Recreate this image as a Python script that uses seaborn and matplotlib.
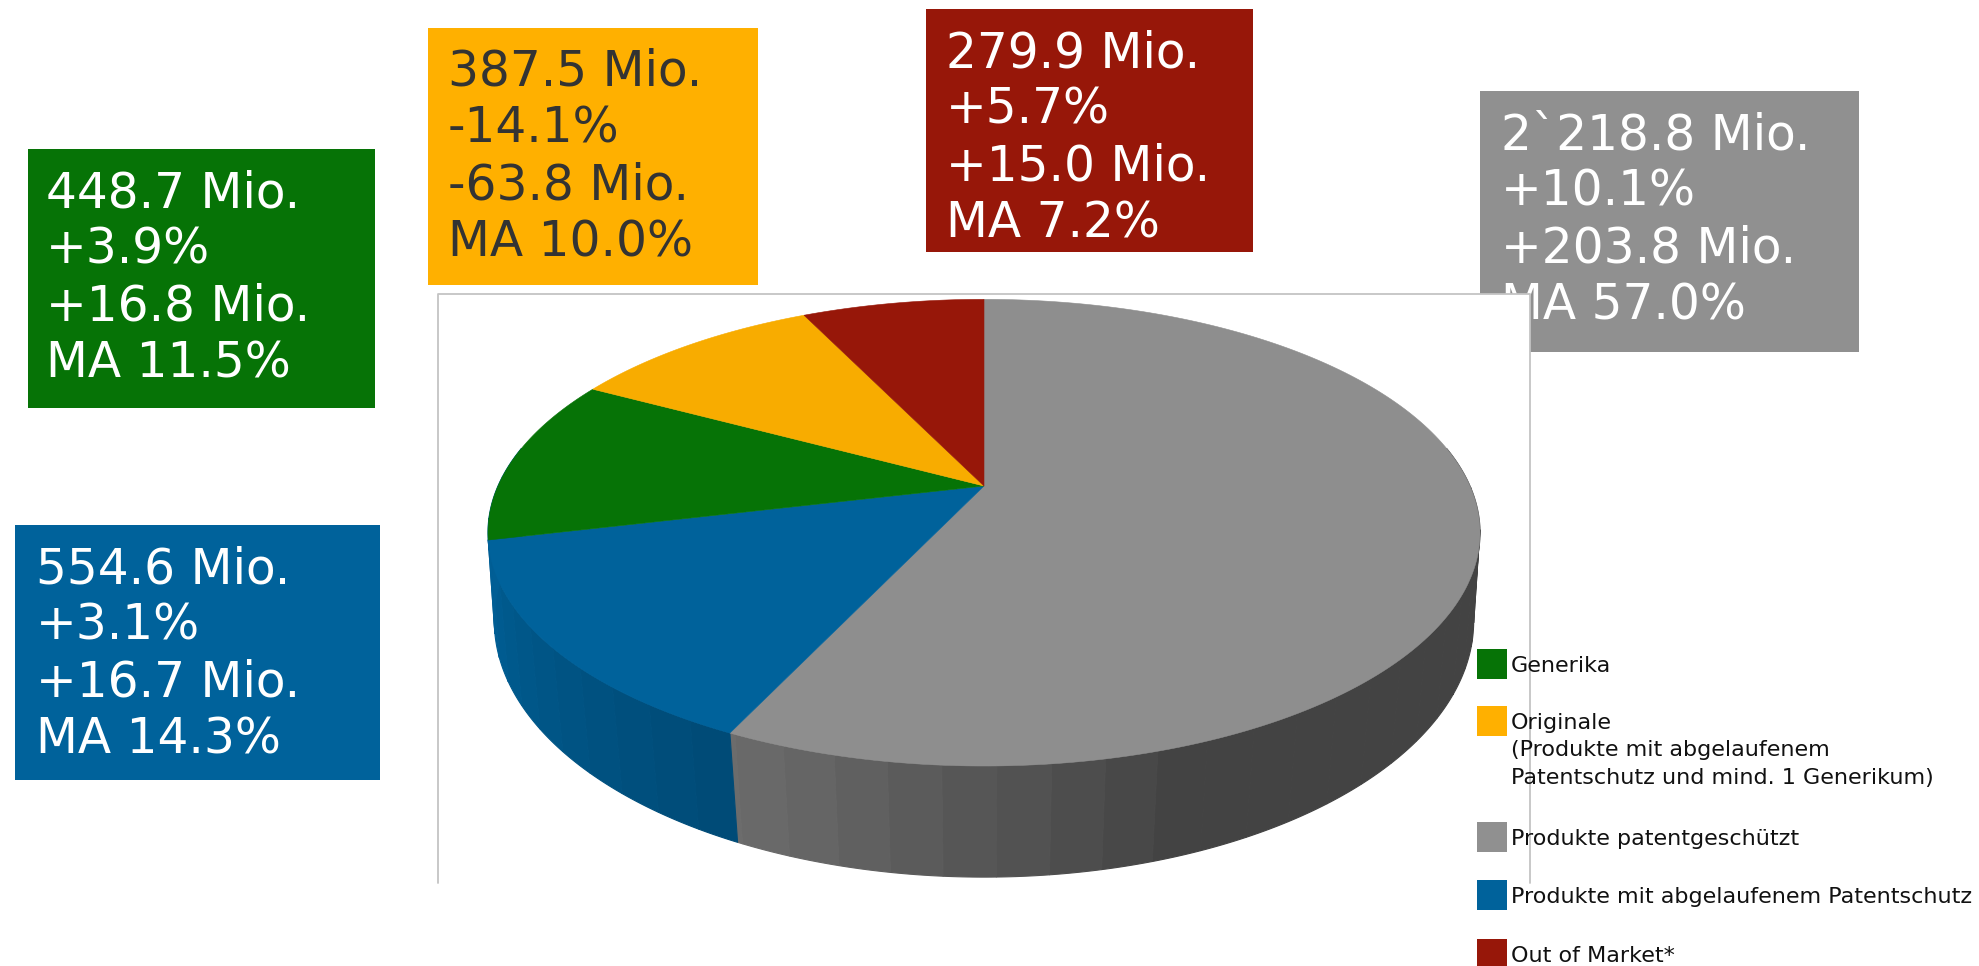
# -*- coding: utf-8 -*-
import numpy as np
from matplotlib import pyplot as plt
from matplotlib.colors import to_rgb
from matplotlib.patches import Rectangle
import seaborn as sns

# pie data, clockwise from the top
slice_names = ['Produkte patentgeschützt', 'Produkte mit abgelaufenem Patentschutz', 'Generika', 'Originale', 'Out of Market*']
slice_values = [2218.8, 554.6, 448.7, 387.5, 279.9]
slice_colors = ['#8e8e8e', '#00629b', '#067306', '#f8ac00', '#971709']

box_texts = {
    'Generika': ['448.7 Mio.', '+3.9%', '+16.8 Mio.', 'MA 11.5%'],
    'Patentschutz': ['554.6 Mio.', '+3.1%', '+16.7 Mio.', 'MA 14.3%'],
    'Originale': ['387.5 Mio.', '-14.1%', '-63.8 Mio.', 'MA 10.0%'],
    'Market': ['279.9 Mio.', '+5.7%', '+15.0 Mio.', 'MA 7.2%'],
    'Patent': ['2`218.8 Mio.', '+10.1%', '+203.8 Mio.', 'MA 57.0%'],
}
legend_texts = ['Generika', 'Originale\n(Produkte mit abgelaufenem\nPatentschutz und mind. 1 Generikum)',
                'Produkte patentgeschützt', 'Produkte mit abgelaufenem Patentschutz', 'Out of Market*']
legend_colors = ['#067306', '#ffb000', '#909090', '#00629b', '#971709']

sns.set_theme(style = "white")
plt.rcParams['font.family'] = ['DejaVu Sans']

fig = plt.figure(figsize = (19.79, 9.66), dpi = 100)
ax = fig.add_axes([0, 0, 1, 1])
ax.set_xlim(0, 1979)
ax.set_ylim(966, 0)
ax.axis('off')

def project(theta, a, b, y0, k):
    """Perspective view of the unit disc, theta in degrees clockwise from the top
    """
    X = np.sin(np.radians(theta))
    Y = -np.cos(np.radians(theta))
    w = 1 - k*Y
    return 984 + a*X/w, y0 + b*Y/w

def toprim(theta):
    return project(theta, 486, 224, 486, 0.2)

def bottomrim(theta):
    return project(theta, 481.7, 247.9, 574.8, 0.18)

def shade(theta):
    return np.interp(theta, [160, 205, 258], [0.47, 0.76, 0.96])

def drawbox(x0, y0, x1, y1, color, lines, dx, textcolor):
    ax.add_patch(Rectangle((x0, y0), x1 - x0, y1 - y0, color = color, lw = 0, zorder = 1))
    ax.text(x0 + dx, y0 + 20, '\n'.join(lines), color = textcolor, fontsize = 35, va = 'top', ha = 'left',
            linespacing = 1.235, zorder = 1.1)

drawbox(28, 149, 375, 408, '#067306', box_texts['Generika'], 18, 'white')
drawbox(15, 525, 380, 780, '#00629b', box_texts['Patentschutz'], 21, 'white')
drawbox(428, 28, 758, 285, '#ffb000', box_texts['Originale'], 20, '#333333')
drawbox(926, 9, 1253, 252, '#971709', box_texts['Market'], 20, 'white')
drawbox(1480, 91, 1859, 352, '#909090', box_texts['Patent'], 21, 'white')

# chart area hides the corner of the grey box
ax.add_patch(Rectangle((438, 294), 1092, 589, color = 'white', lw = 0, zorder = 2))
ax.plot([438, 438, 1530, 1530], [883, 294, 294, 883], color = '#c4c4c4', lw = 1.3, zorder = 2.1)

edges = 360*np.cumsum([0] + slice_values)/np.sum(slice_values)

# side wall, in bands: only grey and blue reach the front
for i in range(2):
    start = max(edges[i], 80)
    stop = min(edges[i + 1], 280) if i == 0 else 280
    marks = np.arange(80, 280, 5.2)
    marks = np.concatenate(([start], marks[(marks > start) & (marks < stop)], [stop]))
    base = np.array(to_rgb(slice_colors[i]))
    for a, b in zip(marks[:-1], marks[1:]):
        t = np.linspace(a, b, 12)
        x1, y1 = toprim(t)
        x2, y2 = bottomrim(t)
        c = base*shade((a + b)/2)
        ax.fill(np.r_[x1, x2[::-1]], np.r_[y1, y2[::-1]], color = c, lw = 0.8, zorder = 3)

# top face
for i in range(len(slice_values)):
    t = np.linspace(edges[i], edges[i + 1], 200)
    x, y = toprim(t)
    ax.fill(np.r_[984, x], np.r_[486, y], color = slice_colors[i], lw = 0.4, zorder = 4)

# legend
swatch_y = [649, 706, 822, 880, 939]
for y, c, txt in zip(swatch_y, legend_colors, legend_texts):
    ax.add_patch(Rectangle((1477, y), 30, 30, color = c, lw = 0, zorder = 5))
    ax.text(1511, y + 7, txt, fontsize = 16, color = '#111111', va = 'top', ha = 'left', linespacing = 1.46, zorder = 5)

fig.savefig('out.png', dpi = 100)
